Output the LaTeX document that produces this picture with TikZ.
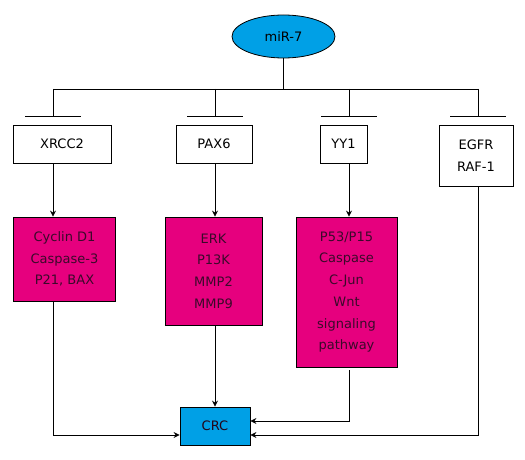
\documentclass[tikz,border=0pt]{standalone}
\usepackage{fontspec}
\setmainfont{DejaVu Sans}
\usetikzlibrary{shapes.geometric,arrows.meta}
\definecolor{mblue}{HTML}{00A0E6}
\definecolor{mpink}{HTML}{E6007E}
\definecolor{tdark}{HTML}{3A0A2A}
\begin{document}
\begin{tikzpicture}[x=1pt,y=-1pt,
  every node/.style={inner sep=0pt,font=\fontsize{13}{21.7}\selectfont,align=center},
  gbox/.style={draw,line width=0.8pt,fill=white,minimum width=#1},
  pbox/.style={draw,line width=0.8pt,fill=mpink,text=tdark},
  ln/.style={line width=0.8pt},
  arr/.style={ln,-{Stealth[length=6pt,width=6pt,inset=2pt]}}]
\useasboundingbox (0,0) rectangle (525,460);
% top
\node[ellipse,draw,line width=0.8pt,fill=mblue,minimum width=103pt,minimum height=43pt] (mir) at (283.5,36.5) {miR-7};
\coordinate (busc) at (283.5,89);
\coordinate (b1) at (53,89);
\coordinate (b2) at (215,89);
\coordinate (b3) at (349,89);
\coordinate (b4) at (478,89);
\coordinate (t1) at (53,116);
\coordinate (t2) at (215,116);
\coordinate (t3) at (349,116);
\coordinate (t4) at (478,116);
% second row
\node[gbox=98pt,minimum height=38pt] (xrcc) at (62,144) {XRCC2};
\node[gbox=76pt,minimum height=38pt] (pax) at (214,144) {PAX6};
\node[gbox=47pt,minimum height=38pt] (yy) at (343.5,144) {YY1};
\node[gbox=74pt,minimum height=61pt] (egfr) at (476,155.5) {EGFR\\RAF-1};
% pink row
\node[pbox,minimum width=102.4pt,minimum height=84pt] (cyc) at (64.5,259) {Cyclin D1\\Caspase-3\\P21, BAX};
\node[pbox,minimum width=97pt,minimum height=108pt] (erk) at (213.5,271) {ERK\\P13K\\MMP2\\MMP9};
\node[pbox,minimum width=101pt,minimum height=150pt] (p53) at (346.5,292) {P53/P15\\Caspase\\C-Jun\\Wnt\\signaling\\pathway};
% CRC
\node[draw,line width=0.8pt,fill=mblue,text=tdark!60!black,minimum width=70pt,minimum height=38pt] (crc) at (215,426) {CRC};
\coordinate (r3) at (349,421);
\coordinate (r4) at (478,435);
\coordinate (r1) at (53,435);
% connectors
\draw[ln] (mir.south) -- (busc);
\draw[ln] (b1) -- (b4);
\foreach \i in {1,2,3,4} {
  \draw[ln] (b\i) -- (t\i);
  \draw[ln] ([xshift=-28pt]t\i) -- ([xshift=28pt]t\i);
}
\draw[arr] (xrcc.south -| b1) -- (cyc.north -| b1);
\draw[arr] (pax.south -| b2) -- (erk.north -| b2);
\draw[arr] (yy.south -| b3) -- (p53.north -| b3);
\draw[arr] (erk.south -| crc) -- (crc.north);
\draw[arr,shorten <=3pt] (p53.south -| r3) -- (r3) -- (crc.east |- r3);
\draw[arr] (egfr.south -| r4) -- (r4) -- (crc.east |- r4);
\draw[arr] (cyc.south -| r1) -- (r1) -- (crc.west |- r1);
\end{tikzpicture}
\end{document}
